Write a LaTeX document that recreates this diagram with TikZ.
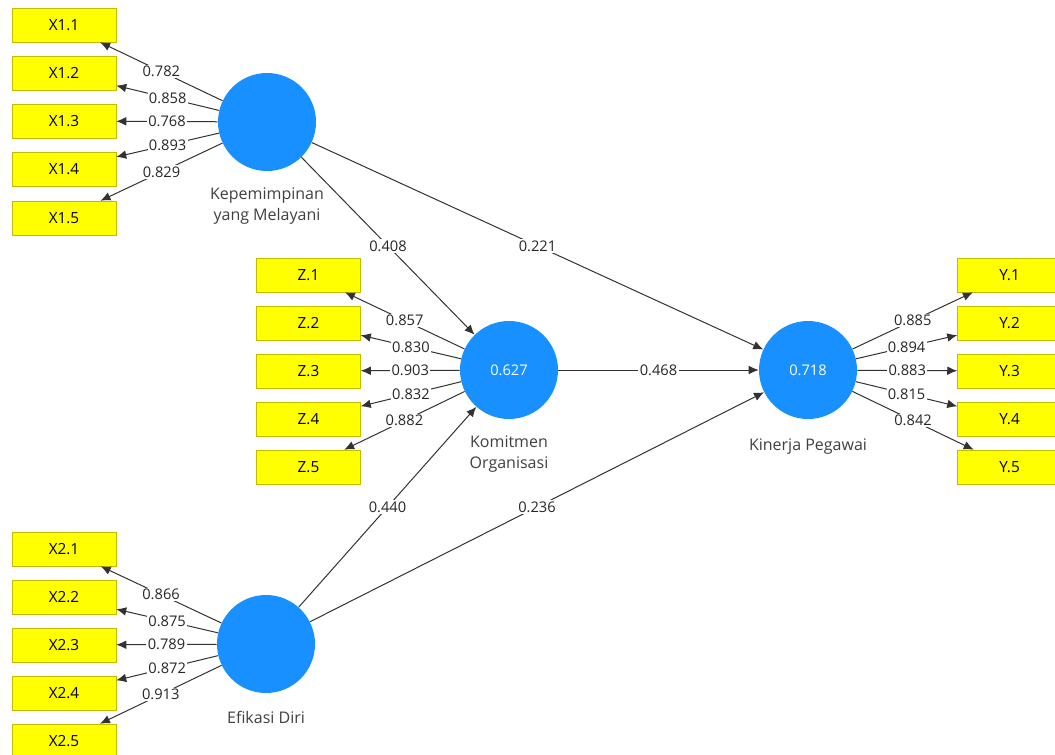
\documentclass[tikz,border=0pt]{standalone}
\usepackage{fontspec}
\setmainfont{Open Sans}
\usetikzlibrary{positioning}
\usetikzlibrary{arrows.meta}
\definecolor{lvblue}{RGB}{24,144,255}
\definecolor{mvyellow}{RGB}{255,255,0}
\definecolor{mvborder}{RGB}{196,186,0}
\definecolor{pathgray}{RGB}{50,50,50}
\tikzset{
	latent/.style={circle, fill=lvblue, minimum size=73.5pt, inner sep=0pt, text=white},
	indicator/.style={rectangle, draw=mvborder, fill=mvyellow, minimum width=78pt, minimum height=25.5pt, inner sep=0pt, font=\fontsize{11.5}{13}\selectfont},
	path/.style={draw=pathgray, line width=0.75pt, -{Latex[length=7.5pt,width=6.5pt]}},
	coef/.style={fill=white, inner sep=1pt, midway, text=black!85},
	lvname/.style={align=center, text=black!75, font=\fontsize{12}{15.5}\selectfont},
}

\begin{document}
\begin{tikzpicture}[x=0.75pt, y=-0.75pt, font=\fontsize{11}{13}\selectfont]
	\useasboundingbox (0,0) rectangle (1055,754);
	
	% latent variables
	\node[latent] (KM) at (267,122) {};
	\node[latent] (KO) at (509,370) {0.627};
	\node[latent] (KP) at (808,370) {0.718};
	\node[latent] (ED) at (266,644) {};
	
	\node[lvname, below=9pt of KM] (KMname) {Kepemimpinan\\yang Melayani};
	\node[lvname, below=9pt of KO] (KOname) {Komitmen\\Organisasi};
	\node[lvname, below=11pt of KP] (KPname) {Kinerja Pegawai};
	\node[lvname, below=10pt of ED] (EDname) {Efikasi Diri};
	
	% indicators
	\begin{scope}[shift={(64,0)}]
		\node[indicator] (X11) at (0,25) {X1.1};
		\node[indicator] (X12) at (0,73) {X1.2};
		\node[indicator] (X13) at (0,121) {X1.3};
		\node[indicator] (X14) at (0,169) {X1.4};
		\node[indicator] (X15) at (0,218) {X1.5};
		
		\node[indicator] (X21) at (0,549) {X2.1};
		\node[indicator] (X22) at (0,597) {X2.2};
		\node[indicator] (X23) at (0,645) {X2.3};
		\node[indicator] (X24) at (0,693) {X2.4};
		\node[indicator] (X25) at (0,741) {X2.5};
	\end{scope}
	\begin{scope}[shift={(308.5,0)}]
		\node[indicator] (Z1) at (0,275) {Z.1};
		\node[indicator] (Z2) at (0,323) {Z.2};
		\node[indicator] (Z3) at (0,371) {Z.3};
		\node[indicator] (Z4) at (0,419) {Z.4};
		\node[indicator] (Z5) at (0,467) {Z.5};
	\end{scope}
	\begin{scope}[shift={(1009.5,0)}]
		\node[indicator] (Y1) at (0,275) {Y.1};
		\node[indicator] (Y2) at (0,323) {Y.2};
		\node[indicator] (Y3) at (0,371) {Y.3};
		\node[indicator] (Y4) at (0,419) {Y.4};
		\node[indicator] (Y5) at (0,467) {Y.5};
	\end{scope}
	
	% outer loadings
	\draw[path] (KM) -- (X11) node[coef]{0.782};
	\draw[path] (KM) -- (X12) node[coef]{0.858};
	\draw[path] (KM) -- (X13) node[coef]{0.768};
	\draw[path] (KM) -- (X14) node[coef]{0.893};
	\draw[path] (KM) -- (X15) node[coef]{0.829};
	
	\draw[path] (KO) -- (Z1) node[coef]{0.857};
	\draw[path] (KO) -- (Z2) node[coef]{0.830};
	\draw[path] (KO) -- (Z3) node[coef]{0.903};
	\draw[path] (KO) -- (Z4) node[coef]{0.832};
	\draw[path] (KO) -- (Z5) node[coef]{0.882};
	
	\draw[path] (KP) -- (Y1) node[coef]{0.885};
	\draw[path] (KP) -- (Y2) node[coef]{0.894};
	\draw[path] (KP) -- (Y3) node[coef]{0.883};
	\draw[path] (KP) -- (Y4) node[coef]{0.815};
	\draw[path] (KP) -- (Y5) node[coef]{0.842};
	
	\draw[path] (ED) -- (X21) node[coef]{0.866};
	\draw[path] (ED) -- (X22) node[coef]{0.875};
	\draw[path] (ED) -- (X23) node[coef]{0.789};
	\draw[path] (ED) -- (X24) node[coef]{0.872};
	\draw[path] (ED) -- (X25) node[coef]{0.913};
	
	% path coefficients
	\draw[path] (KM) -- (KO) node[coef]{0.408};
	\draw[path] (KM) -- (KP) node[coef]{0.221};
	\draw[path] (KO) -- (KP) node[coef]{0.468};
	\draw[path] (ED) -- (KO) node[coef]{0.440};
	\draw[path] (ED) -- (KP) node[coef]{0.236};
\end{tikzpicture}
\end{document}
